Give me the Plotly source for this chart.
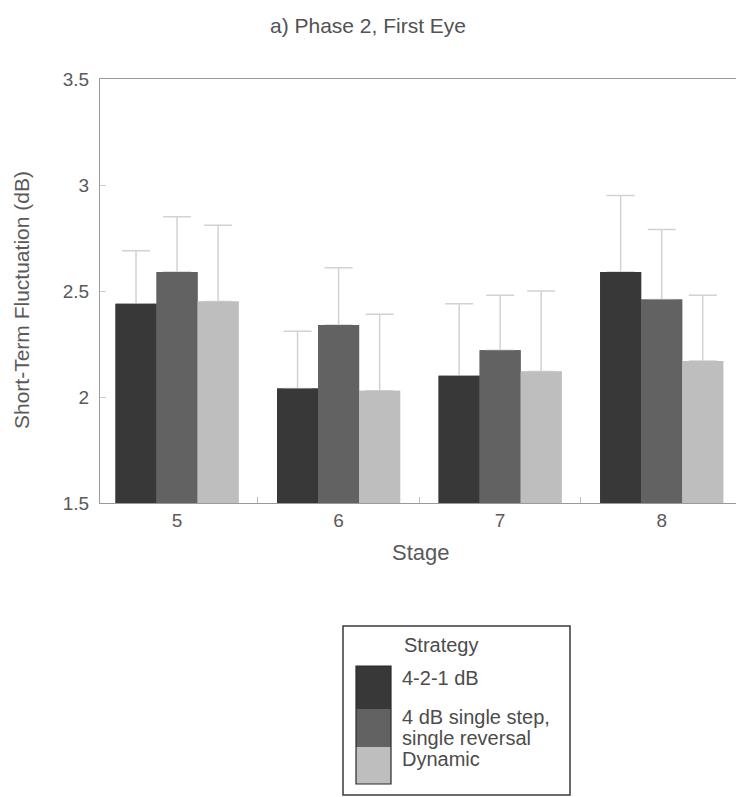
import plotly.graph_objects as go

stages = ["5", "6", "7", "8"]
series_names = ["4-2-1 dB", "4 dB single step, single reversal", "Dynamic"]
means = {
    "4-2-1 dB": [2.44, 2.04, 2.10, 2.59],
    "4 dB single step, single reversal": [2.59, 2.34, 2.22, 2.46],
    "Dynamic": [2.45, 2.03, 2.12, 2.17],
}
errors = {
    "4-2-1 dB": [0.25, 0.27, 0.34, 0.36],
    "4 dB single step, single reversal": [0.26, 0.27, 0.26, 0.33],
    "Dynamic": [0.36, 0.36, 0.38, 0.31],
}
legend_lines = [["4-2-1 dB"], ["4 dB single step,", "single reversal"], ["Dynamic"]]
colors = ["#383838", "#626262", "#bebebe"]
y_ticks = [1.5, 2, 2.5, 3, 3.5]

W, H = 736, 797
L, R, T, B = 100, 0, 79, 294
pw, ph = W - L - R, H - T - B

def px(x):
    return (x - L) / pw

def py(y):
    return (H - B - y) / ph

FONT = "Arial, Liberation Sans, sans-serif"
TXT = "#5a5a5a"
bar_w = 0.254
offsets = [-1.5 * bar_w, -0.5 * bar_w, 0.5 * bar_w]

fig = go.Figure()
# layer 1: bars with error bars
for name, c, off in zip(series_names, colors, offsets):
    fig.add_trace(go.Bar(
        x=stages, y=means[name], name=name, width=bar_w, offset=off,
        marker=dict(color=c, line=dict(width=0)),
        error_y=dict(type="data", array=errors[name], arrayminus=[0] * len(stages),
                     symmetric=False, color="#d2d2d2", thickness=1.5, width=14),
        showlegend=False,
    ))
# layer 2: same bars on top, hiding the lower error-bar caps
for name, c, off in zip(series_names, colors, offsets):
    fig.add_trace(go.Bar(
        x=stages, y=means[name], name=name, width=bar_w, offset=off,
        marker=dict(color=c, line=dict(width=0)), showlegend=False, hoverinfo="skip",
    ))

fig.update_layout(
    width=W, height=H,
    margin=dict(l=L, r=R, t=T, b=B),
    paper_bgcolor="white", plot_bgcolor="white",
    barmode="overlay",
    font=dict(family=FONT, color=TXT, size=19),
    title=dict(text="a) Phase 2, First Eye", x=0.5, xref="container", y=1 - 26 / H,
               yanchor="middle", font=dict(size=21, color="#525252")),
)
fig.update_xaxes(
    range=[-0.477, 3.46], showgrid=False, showline=True, linecolor="#9a9a9a", linewidth=1,
    mirror=True, ticks="inside", ticklen=6, tickcolor="#bbbbbb", tickson="boundaries",
    tickfont=dict(size=19, color=TXT),
)
fig.update_yaxes(
    range=[1.5, 3.5], tickvals=y_ticks, showgrid=False, showline=True, linecolor="#9a9a9a",
    linewidth=1, ticks="inside", ticklen=6, tickcolor="#cccccc", zeroline=False,
    tickfont=dict(size=19, color=TXT), ticklabelstandoff=6,
)

# axis titles
fig.add_annotation(text="Short-Term Fluctuation (dB)", xref="paper", yref="paper",
                   x=px(21), y=py(300), textangle=-90, showarrow=False,
                   font=dict(size=21, color=TXT), xanchor="center", yanchor="middle")
fig.add_annotation(text="Stage", xref="paper", yref="paper", x=px(421), y=py(552),
                   showarrow=False, font=dict(size=22, color=TXT),
                   xanchor="center", yanchor="middle")

# legend box (drawn manually)
fig.add_shape(type="rect", xref="paper", yref="paper", x0=px(343), x1=px(570),
              y0=py(626), y1=py(795), line=dict(color="#3a3a3a", width=1.5),
              fillcolor="white", layer="above")
fig.add_annotation(text="Strategy", xref="paper", yref="paper", x=px(402), y=py(645),
                   showarrow=False, xanchor="left", yanchor="middle",
                   font=dict(size=20, color="#4c4c4c"))
sw = [(666, 709), (709, 747), (747, 784)]
for (a, b), c in zip(sw, colors):
    fig.add_shape(type="rect", xref="paper", yref="paper", x0=px(356), x1=px(391),
                  y0=py(b), y1=py(a), line=dict(width=0), fillcolor=c, layer="above")
fig.add_shape(type="rect", xref="paper", yref="paper", x0=px(356), x1=px(391),
              y0=py(784), y1=py(666), line=dict(color="#2a2a2a", width=1.2), layer="above")
line_y = [[678], [717, 738], [759]]
for lines, ys in zip(legend_lines, line_y):
    for t, ly in zip(lines, ys):
        fig.add_annotation(text=t, xref="paper", yref="paper", x=px(400), y=py(ly),
                           showarrow=False, xanchor="left", yanchor="middle", align="left",
                           font=dict(size=20, color="#4c4c4c"))

fig.write_html("out.html")
